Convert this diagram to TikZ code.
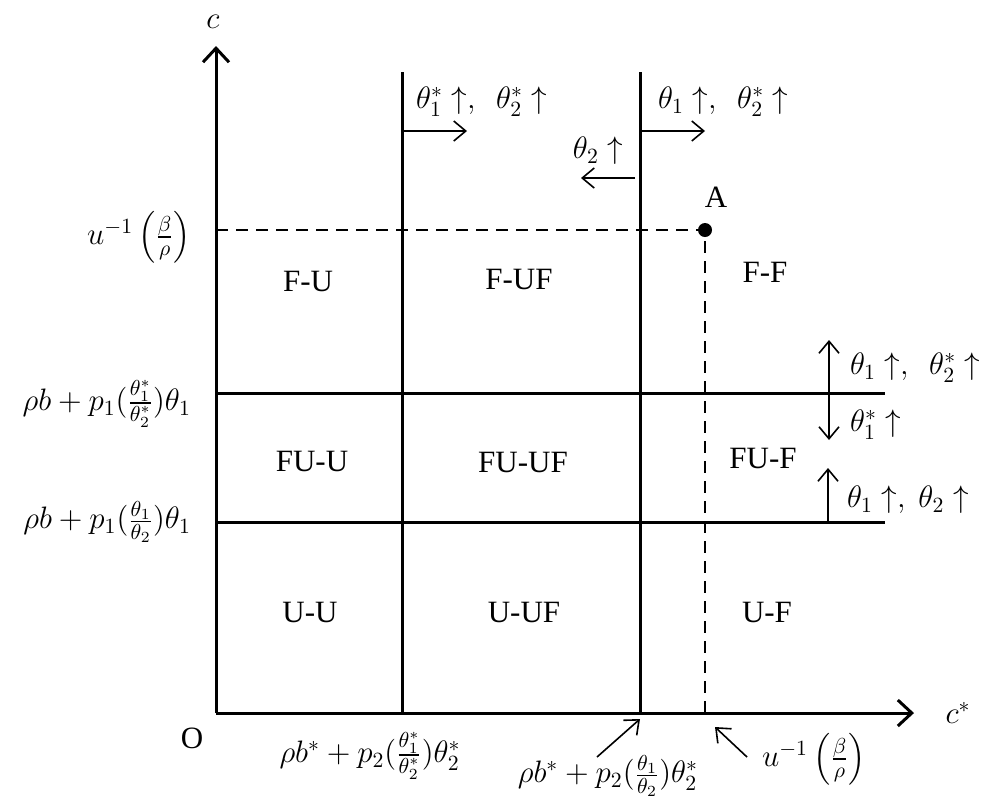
\RequirePackage{fix-cm}
\documentclass[tikz,border=0pt]{standalone}
\usepackage{amsmath}
\usepackage{fontspec}
\setmainfont{Liberation Serif}
\usetikzlibrary{arrows.meta}

\begin{document}
\begin{tikzpicture}[x=0.5pt,y=-0.5pt,font=\fontsize{15.5}{18}\selectfont,
  axis/.style={line width=1.5pt,-{Straight Barb[length=7pt,width=13pt,line width=1.5pt]}},
  bound/.style={line width=1.5pt},
  shiftarr/.style={line width=0.8pt,-{Straight Barb[length=6pt,width=10pt]}},
  guide/.style={line width=1pt,dash pattern=on 6pt off 4pt}]
\useasboundingbox (0,0) rectangle (989,805);
% axes
\coordinate (O) at (216,713);
\coordinate (ctop) at (216,46);
\coordinate (cend) at (914,713);
\draw[axis] (O) -- (ctop);
\draw[axis] (O) -- (cend);
\node (clab) at (213,22) {$c$};
\node (cslab) at (958,713) {$c^*$};
\node (olab) at (192,738) {O};
% boundaries
\coordinate (v1t) at (402,72);
\coordinate (v1b) at (402,713);
\coordinate (v2t) at (640,72);
\coordinate (v2b) at (640,713);
\coordinate (h1l) at (216,393);
\coordinate (h1r) at (885,393);
\coordinate (h2l) at (216,522);
\coordinate (h2r) at (885,522);
\draw[bound] (v1t) -- (v1b);
\draw[bound] (v2t) -- (v2b);
\draw[bound] (h1l) -- (h1r);
\draw[bound] (h2l) -- (h2r);
% point A
\coordinate (A) at (705,230);
\coordinate (Aleft) at (216,230);
\coordinate (Adown) at (705,713);
\draw[guide] (Aleft) -- (A) -- (Adown);
\fill (A) circle (7);
\node (alab) at (716,197) {A};
% left labels
\node[anchor=east] (ulab) at (198,237) {$u^{-1}\left(\frac{\beta}{\rho}\right)$};
\node[anchor=east] (h1lab) at (198,404) {$\rho b+p_1(\frac{\theta_1^*}{\theta_2^*})\theta_1$};
\node[anchor=east] (h2lab) at (198,522) {$\rho b+p_1(\frac{\theta_1}{\theta_2})\theta_1$};
% bottom labels
\node (v1lab) at (370,756) {$\rho b^*+p_2(\frac{\theta_1^*}{\theta_2^*})\theta_2^*$};
\node (v2lab) at (608,776) {$\rho b^*+p_2(\frac{\theta_1}{\theta_2})\theta_2^*$};
\node[anchor=west] (ulab2) at (755,759) {$u^{-1}\left(\frac{\beta}{\rho}\right)$};
\coordinate (p1s) at (597,757);
\coordinate (p1e) at (640,719);
\coordinate (p2s) at (747,757);
\coordinate (p2e) at (715,727);
\draw[shiftarr] (p1s) -- (p1e);
\draw[shiftarr] (p2s) -- (p2e);
% regions
\node (FU) at (308,281) {F-U};
\node (FUF) at (519,279) {F-UF};
\node (FF) at (765,272) {F-F};
\node (FUU) at (312,461) {FU-U};
\node (FUUF) at (523,462) {FU-UF};
\node (FUF2) at (763,458) {FU-F};
\node (UU) at (310,612) {U-U};
\node (UUF) at (524,612) {U-UF};
\node (UF) at (767,612) {U-F};
% shifts at the top
\coordinate (t1s) at (402,131);
\coordinate (t1e) at (467,131);
\coordinate (t2s) at (640,131);
\coordinate (t2e) at (705,131);
\coordinate (t3s) at (635,178);
\coordinate (t3e) at (581,178);
\draw[shiftarr] (t1s) -- (t1e);
\draw[shiftarr] (t2s) -- (t2e);
\draw[shiftarr] (t3s) -- (t3e);
\node[anchor=west] (t1lab) at (409,102) {$\theta_1^*\uparrow,\ \ \theta_2^*\uparrow$};
\node[anchor=west] (t2lab) at (651,102) {$\theta_1\uparrow,\ \ \theta_2^*\uparrow$};
\node (t3lab) at (598,151) {$\theta_2\uparrow$};
% shifts on the right
\coordinate (r1t) at (829,340);
\coordinate (r1b) at (829,440);
\coordinate (r1m) at (829,393);
\coordinate (r2t) at (828,468);
\coordinate (r2b) at (828,522);
\draw[shiftarr] (r1m) -- (r1t);
\draw[shiftarr] (r1m) -- (r1b);
\draw[shiftarr] (r2b) -- (r2t);
\node[anchor=west] (r1lab) at (843,368) {$\theta_1\uparrow,\ \ \theta_2^*\uparrow$};
\node[anchor=west] (r2lab) at (843,425) {$\theta_1^*\uparrow$};
\node[anchor=west] (r3lab) at (840,500) {$\theta_1\uparrow,\ \theta_2\uparrow$};
\end{tikzpicture}
\end{document}
